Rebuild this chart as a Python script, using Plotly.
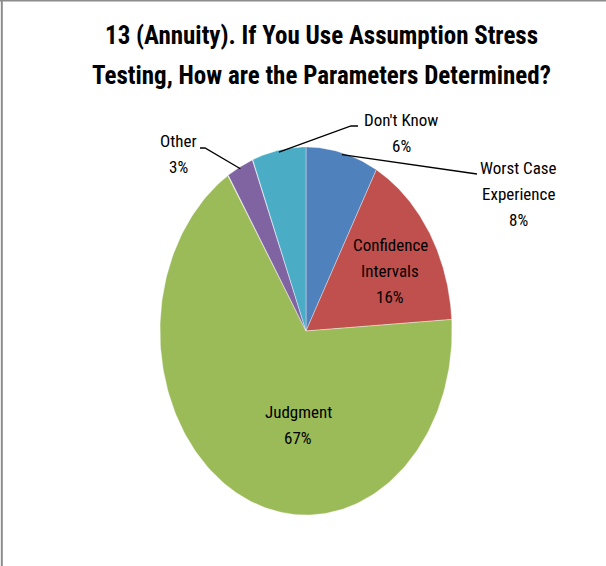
import numpy as np
import plotly.graph_objects as go

# Survey responses, clockwise from 12 o'clock
categories = ["Worst Case Experience", "Confidence Intervals", "Judgment", "Other", "Don't Know"]
label_lines = [["Worst Case", "Experience"], ["Confidence", "Intervals"], ["Judgment"], ["Other"], ["Don't Know"]]
values = [8, 16, 67, 3, 6]
colors = ["#4F81BD", "#C0504D", "#9BBB59", "#8064A2", "#4BACC6"]
title_lines = ["13 (Annuity). If You Use Assumption Stress",
               "Testing, How are the Parameters Determined?"]

W, H = 606, 566
RX, RY = 146, 184          # pixel radii of the (stretched) pie
CX, CY = 306, 331          # pixel centre (from top-left)

FONT = "Liberation Sans Narrow, Roboto Condensed, Arial Narrow, sans-serif"

fig = go.Figure()

total = sum(values)
fracs = np.cumsum([0] + values) / total
for i, (name, c) in enumerate(zip(categories, colors)):
    a0, a1 = fracs[i] * 2 * np.pi, fracs[i + 1] * 2 * np.pi
    t = np.linspace(a0, a1, 200)
    xs = np.concatenate([[0], np.sin(t), [0]])
    ys = np.concatenate([[0], np.cos(t), [0]])
    fig.add_trace(go.Scatter(x=xs, y=ys, fill="toself", fillcolor=c, mode="lines",
                             line=dict(color="rgba(255,255,255,0.6)", width=0.6),
                             hoverinfo="text", text=name, showlegend=False))

def mid_angle(i):
    return (fracs[i] + fracs[i + 1]) * np.pi

def px_to_data(px, py):
    return (px - CX) / RX, (CY - py) / RY

def text_at(px, py, s, size, bold=False):
    fig.add_annotation(x=px / W, y=1 - py / H, xref="paper", yref="paper",
                       xanchor="center", yanchor="middle",
                       text=f"<b>{s}</b>" if bold else s, showarrow=False,
                       font=dict(family=FONT, size=size, color="#000000"))

# label placement: (centre x px, first-line y px, leader elbow (x, y, end x) or None)
placements = {
    0: (518, 168, (472, 174, 477)),
    1: (390, 245, None),
    2: (298, 412, None),
    3: (178, 141, (205, 148, 200)),
    4: (401, 120, (351, 126, 358)),
}
LINE_H = 26

for i, (px, py, leader) in placements.items():
    lines = label_lines[i] + [f"{values[i]}%"]
    for k, s in enumerate(lines):
        text_at(px, py + k * LINE_H, s, 17)
    if leader:
        ang = mid_angle(i)
        sx, sy = np.sin(ang) * 0.99, np.cos(ang) * 0.99
        ex, ey, hx = leader
        x1, y1 = px_to_data(ex, ey)
        x2, _ = px_to_data(hx, ey)
        fig.add_trace(go.Scatter(x=[sx, x1, x2], y=[sy, y1, y1],
                                 mode="lines", line=dict(color="#000000", width=1.3),
                                 hoverinfo="skip", showlegend=False))

text_at(321, 35, title_lines[0], 25, bold=True)
text_at(321, 75, title_lines[1], 25, bold=True)

# chart frame (left and top edges visible)
fig.add_shape(type="line", xref="paper", yref="paper", x0=0.003, x1=0.003, y0=0, y1=1,
              line=dict(color="#8c8c8c", width=2))
fig.add_shape(type="line", xref="paper", yref="paper", x0=0, x1=1, y0=0.999, y1=0.999,
              line=dict(color="#8c8c8c", width=2))

fig.update_xaxes(range=[-CX / RX, (W - CX) / RX], visible=False, fixedrange=True)
fig.update_yaxes(range=[-(H - CY) / RY, CY / RY], visible=False, fixedrange=True)
fig.update_layout(width=W, height=H, margin=dict(l=0, r=0, t=0, b=0),
                  paper_bgcolor="white", plot_bgcolor="white")

fig.write_html("out.html")
